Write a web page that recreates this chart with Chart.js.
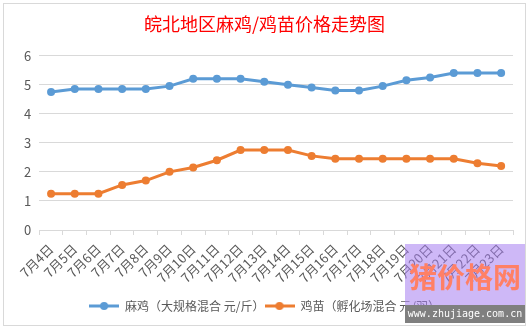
<!DOCTYPE html>
<html>
<head>
<meta charset="utf-8">
<script src="https://cdn.jsdelivr.net/npm/chart.js@4/dist/chart.umd.min.js"></script>
<style>
  html, body { margin: 0; padding: 0; background: #fff; }
  #wrap { width: 530px; height: 329px; }
</style>
</head>
<body>
<div id="wrap"><canvas id="lineCanvas" width="530" height="329"></canvas></div>
<script>
const dates = ['7月4日', '7月5日', '7月6日', '7月7日', '7月8日', '7月9日', '7月10日', '7月11日', '7月12日', '7月13日',
    '7月14日', '7月15日', '7月16日', '7月17日', '7月18日', '7月19日', '7月20日', '7月21日', '7月22日', '7月23日'];
const maji = [4.75, 4.85, 4.85, 4.85, 4.85, 4.95, 5.2, 5.2, 5.2, 5.1,
    5.0, 4.9, 4.8, 4.8, 4.95, 5.15, 5.25, 5.4, 5.4, 5.4];
const jimiao = [1.25, 1.25, 1.25, 1.55, 1.7, 2.0, 2.15, 2.4, 2.75, 2.75,
    2.75, 2.55, 2.45, 2.45, 2.45, 2.45, 2.45, 2.45, 2.3, 2.2];
const seriesNames = ['麻鸡（大规格混合 元/斤）', '鸡苗（孵化场混合 元/羽）'];

const blue = '#5B9BD5';
const orange = '#ED7D31';
const textGrey = '#595959';
const cjk = "'Noto Sans CJK SC', 'Noto Sans', sans-serif";

// little line + dot picture for the legend, like the excel one
function legendMark(color) {
    const c = document.createElement('canvas');
    c.width = 30;
    c.height = 10;
    const g = c.getContext('2d');
    g.strokeStyle = color;
    g.lineWidth = 3;
    g.beginPath();
    g.moveTo(0, 5);
    g.lineTo(30, 5);
    g.stroke();
    g.fillStyle = color;
    g.beginPath();
    g.arc(15, 5, 4, 0, Math.PI * 2);
    g.fill();
    return c;
}
const marks = [legendMark(blue), legendMark(orange)];

const framePlugin = {
    id: 'frame',
    beforeDraw(chart) {
        const ctx = chart.ctx;
        ctx.save();
        ctx.fillStyle = '#fff';
        ctx.fillRect(0, 0, chart.width, chart.height);
        ctx.strokeStyle = '#D9D9D9';
        ctx.lineWidth = 1;
        ctx.strokeRect(3.5, 3.5, 522, 322);
        ctx.restore();
    }
};

// site watermark in the corner
const stampPlugin = {
    id: 'stamp',
    afterDraw(chart) {
        const ctx = chart.ctx;
        ctx.save();
        ctx.fillStyle = 'rgba(165, 125, 240, 0.55)';
        ctx.fillRect(405, 244, 120, 61);
        ctx.fillStyle = '#FF8066';
        ctx.font = "bold 28px " + cjk;
        ctx.textAlign = 'center';
        ctx.textBaseline = 'middle';
        ctx.fillText('猪价格网', 465, 277);
        ctx.fillStyle = '#7F7F7F';
        ctx.fillRect(405, 305, 120, 18);
        ctx.fillStyle = '#fff';
        ctx.font = "10px 'DejaVu Sans Mono', monospace";
        ctx.fillText('www.zhujiage.com.cn', 465, 314);
        ctx.restore();
    }
};

const lineChart = document.getElementById('lineCanvas');
const graph = new Chart(lineChart, {
    type: 'line',
    data: {
        labels: dates,
        datasets: [{
            label: seriesNames[0],
            data: maji,
            borderColor: blue,
            backgroundColor: blue,
            borderWidth: 3,
            pointRadius: 4,
            pointBorderWidth: 0,
            tension: 0
        }, {
            label: seriesNames[1],
            data: jimiao,
            borderColor: orange,
            backgroundColor: orange,
            borderWidth: 3,
            pointRadius: 4,
            pointBorderWidth: 0,
            tension: 0
        }]
    },
    options: {
        responsive: false,
        animation: false,
        layout: {
            padding: { left: 16, right: 17, top: 8, bottom: 7 }
        },
        scales: {
            x: {
                offset: true,
                grid: {
                    offset: true,
                    drawOnChartArea: false,
                    drawTicks: true,
                    tickLength: 5,
                    color: '#D9D9D9'
                },
                border: { color: '#D9D9D9' },
                ticks: {
                    autoSkip: false,
                    maxRotation: 45,
                    minRotation: 45,
                    padding: 6,
                    color: textGrey,
                    font: { family: cjk, size: 13 }
                },
                // leave room between the date labels and the legend
                afterFit(scale) {
                    scale.height = 70;
                }
            },
            y: {
                min: 0,
                max: 6,
                grid: {
                    color: '#D9D9D9',
                    drawTicks: false
                },
                border: { display: false },
                ticks: {
                    stepSize: 1,
                    padding: 8,
                    color: textGrey,
                    font: { family: cjk, size: 13 }
                }
            }
        },
        plugins: {
            title: {
                display: true,
                text: '皖北地区麻鸡/鸡苗价格走势图',
                color: '#FF0000',
                font: { family: cjk, size: 18, weight: 'normal' },
                padding: { top: 5, bottom: 21 }
            },
            legend: {
                position: 'bottom',
                labels: {
                    usePointStyle: true,
                    pointStyleWidth: 30,
                    boxHeight: 12,
                    padding: 0,
                    color: textGrey,
                    font: { family: cjk, size: 12 },
                    generateLabels(chart) {
                        return chart.data.datasets.map((ds, i) => ({
                            text: ds.label,
                            fillStyle: ds.borderColor,
                            strokeStyle: ds.borderColor,
                            lineWidth: 0,
                            pointStyle: marks[i],
                            fontColor: textGrey,
                            hidden: false,
                            datasetIndex: i
                        }));
                    }
                }
            },
            tooltip: { enabled: false }
        }
    },
    plugins: [framePlugin, stampPlugin]
});
</script>
</body>
</html>
